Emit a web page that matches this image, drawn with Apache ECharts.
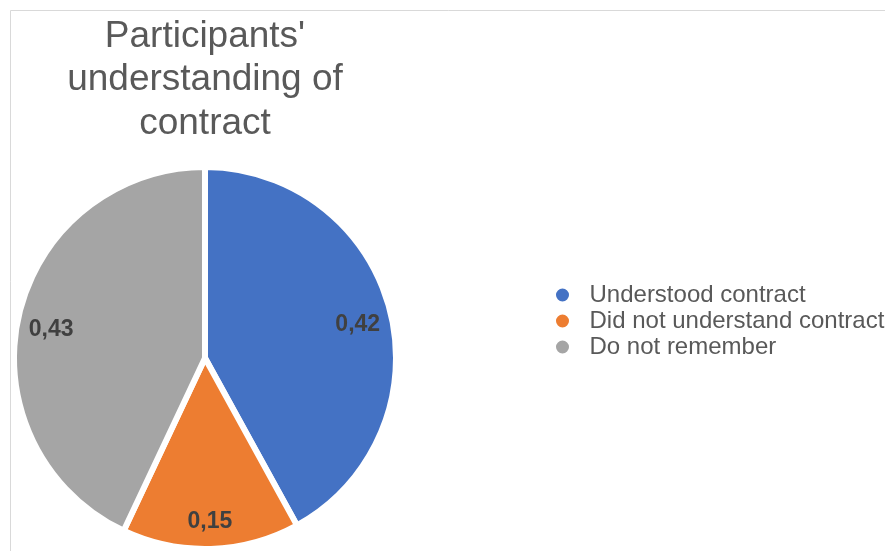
<!DOCTYPE html>
<html>
<head>
<meta charset="utf-8">
<script src="https://cdn.jsdelivr.net/npm/echarts@6/dist/echarts.min.js"></script>
<style>
html,body{margin:0;padding:0;background:#fff;}
#chart{width:885px;height:551px;}
</style>
</head>
<body>
<div id="chart"></div>
<script>
var titleText = "Participants'\nunderstanding of\ncontract";
var categories = ["Understood contract", "Did not understand contract", "Do not remember"];
var values = [0.42, 0.15, 0.43];
var labelTexts = ["0,42", "0,15", "0,43"];
var colors = ["#4472C4", "#ED7D31", "#A5A5A5"];

var chart = echarts.init(document.getElementById('chart'), null, {renderer: 'canvas'});

var R = 191;
var pieData = categories.map(function (c, i) {
  return { name: c, value: values[i], itemStyle: { color: colors[i] } };
});
var labelData = categories.map(function (c, i) {
  return { name: c, value: values[i], labelText: labelTexts[i] };
});

var option = {
  animation: false,
  backgroundColor: '#ffffff',
  graphic: [{
    type: 'rect',
    shape: { x: 10.5, y: 10.5, width: 900, height: 600 },
    style: { fill: 'none', stroke: '#d9d9d9', lineWidth: 1 },
    silent: true,
    z: -10
  }],
  title: {
    text: titleText,
    left: 200,
    textAlign: 'center',
    top: 10,
    textStyle: {
      fontFamily: 'Liberation Sans, Arial, sans-serif',
      fontSize: 37,
      fontWeight: 'normal',
      color: '#595959',
      lineHeight: 43.5
    }
  },
  legend: {
    orient: 'vertical',
    left: 549,
    top: 278,
    icon: 'circle',
    itemWidth: 44,
    itemHeight: 15,
    itemGap: 2,
    data: categories,
    textStyle: {
      fontFamily: 'Liberation Sans, Arial, sans-serif',
      fontSize: 24,
      lineHeight: 24,
      color: '#595959'
    }
  },
  series: [{
    type: 'pie',
    center: [205, 358],
    radius: [0, R],
    startAngle: 90,
    clockwise: true,
    data: pieData,
    label: { show: false },
    labelLine: { show: false },
    emphasis: { disabled: true },
    itemStyle: { borderColor: '#ffffff', borderWidth: 6 }
  }, {
    type: 'pie',
    center: [205, 358],
    radius: [R * 0.62, R],
    startAngle: 90,
    clockwise: true,
    silent: true,
    data: labelData,
    itemStyle: { color: 'rgba(0,0,0,0)' },
    emphasis: { disabled: true },
    labelLine: { show: false },
    labelLayout: function () { return { dy: 6 }; },
    label: {
      show: true,
      position: 'inside',
      formatter: function (p) { return p.data.labelText; },
      fontFamily: 'Liberation Sans, Arial, sans-serif',
      fontSize: 23,
      fontWeight: 'bold',
      color: '#404040'
    }
  }]
};
chart.setOption(option);
</script>
</body>
</html>
